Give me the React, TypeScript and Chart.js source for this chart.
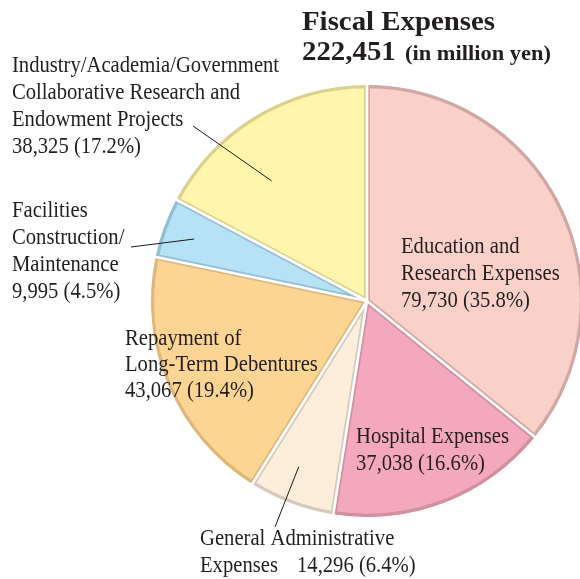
import React, { useEffect, useRef } from "react";
import { Chart, registerables } from "chart.js";

Chart.register(...registerables);

const titleLine = "Fiscal Expenses";
const totalText = "222,451";
const unitText = "(in million yen)";

const categories = [
  "Education and Research Expenses",
  "Hospital Expenses",
  "General Administrative Expenses",
  "Repayment of Long-Term Debentures",
  "Facilities Construction/Maintenance",
  "Industry/Academia/Government Collaborative Research and Endowment Projects",
];
const values = [79730, 37038, 14296, 43067, 9995, 38325];
const percents = [35.8, 16.6, 6.4, 19.4, 4.5, 17.2];
const nameLines = [
  ["Education and", "Research Expenses"],
  ["Hospital Expenses"],
  ["General Administrative", "Expenses"],
  ["Repayment of", "Long-Term Debentures"],
  ["Facilities", "Construction/", "Maintenance"],
  ["Industry/Academia/Government", "Collaborative Research and", "Endowment Projects"],
];

const fills = ["#F9D1C9", "#F4A8BD", "#FDEEDC", "#FDD593", "#B6E2F6", "#FFF6AB"];
const borders = ["#CFA8A4", "#CF919D", "#D4CABB", "#DDB87B", "#93BFD3", "#DAD28B"];

// label layout: x, first baseline, line height; general label puts value on the last name line
const labelLayout = [
  { x: 401, y: 253, lh: 27, inline: 0 },
  { x: 356, y: 443, lh: 27, inline: 0 },
  { x: 200, y: 545, lh: 27, inline: 97 },
  { x: 125, y: 345, lh: 26, inline: 0 },
  { x: 12, y: 217, lh: 27, inline: 0 },
  { x: 12, y: 72, lh: 27, inline: 0 },
];

// leader lines: slice index, angle fraction in slice, radius fraction, outer end
const leaders = [
  { i: 5, t: 0.38, rf: 0.71, ex: 193, ey: 126 },
  { i: 4, t: 0.49, rf: 0.85, ex: 131, ey: 247 },
  { i: 2, t: 0.58, rf: 0.83, ex: 275, ey: 527 },
];

const SX = 0.86;
const bodyFont = '24px "Liberation Serif", "Times New Roman", serif';
const GAP = 2.6;

function fmt(v: number) {
  return v.toLocaleString("en-US");
}

const gapPlugin = {
  id: "gaps",
  afterDatasetsDraw(chart: any) {
    const ctx = chart.ctx as CanvasRenderingContext2D;
    const meta = chart.getDatasetMeta(0);
    ctx.save();
    ctx.strokeStyle = "#ffffff";
    ctx.lineWidth = GAP;
    ctx.lineCap = "butt";
    meta.data.forEach((arc: any) => {
      const a = arc.startAngle;
      const R = arc.outerRadius + 2;
      ctx.beginPath();
      ctx.moveTo(arc.x, arc.y);
      ctx.lineTo(arc.x + Math.cos(a) * R, arc.y + Math.sin(a) * R);
      ctx.stroke();
    });
    ctx.restore();
  },
};

const labelPlugin = {
  id: "labels",
  afterDraw(chart: any) {
    const ctx = chart.ctx as CanvasRenderingContext2D;
    const meta = chart.getDatasetMeta(0);
    ctx.save();
    ctx.strokeStyle = "#1a1a1a";
    ctx.lineWidth = 1;
    leaders.forEach((l) => {
      const arc = meta.data[l.i] as any;
      const a = arc.startAngle + (arc.endAngle - arc.startAngle) * l.t;
      const r = arc.outerRadius * l.rf;
      const px = arc.x + Math.cos(a) * r;
      const py = arc.y + Math.sin(a) * r;
      ctx.beginPath();
      ctx.moveTo(l.ex, l.ey);
      ctx.lineTo(px, py);
      ctx.stroke();
    });
    ctx.fillStyle = "#231f20";
    ctx.textBaseline = "alphabetic";
    ctx.textAlign = "left";
    const drawScaled = (text: string, x: number, y: number, font: string, sx: number) => {
      ctx.save();
      ctx.font = font;
      ctx.translate(x, y);
      ctx.scale(sx, 1);
      ctx.fillText(text, 0, 0);
      ctx.restore();
    };
    categories.forEach((_, i) => {
      const L = labelLayout[i];
      const lines = nameLines[i];
      const valueText = `${fmt(values[i])} (${percents[i]}%)`;
      lines.forEach((ln, k) => drawScaled(ln, L.x, L.y + k * L.lh, bodyFont, SX));
      if (L.inline) {
        drawScaled(valueText, L.x + L.inline, L.y + (lines.length - 1) * L.lh, bodyFont, SX);
      } else {
        drawScaled(valueText, L.x, L.y + lines.length * L.lh, bodyFont, SX);
      }
    });
    const boldFont = 'bold 28px "Liberation Serif", "Times New Roman", serif';
    drawScaled(titleLine, 302, 30, boldFont, 1.03);
    drawScaled(totalText, 302, 60, boldFont, 1.03);
    drawScaled(unitText, 405, 60, 'bold 22px "Liberation Serif", "Times New Roman", serif', 1.02);
    ctx.restore();
  },
};

export default function App() {
  const ref = useRef<HTMLCanvasElement | null>(null);
  useEffect(() => {
    if (!ref.current) return;
    const chart = new Chart(ref.current, {
      type: "pie",
      data: {
        labels: categories,
        datasets: [
          {
            data: values,
            backgroundColor: fills,
            borderColor: borders,
            borderWidth: 3,
            borderAlign: "inner",
            radius: 216,
            clip: false,
          } as any,
        ],
      },
      options: {
        responsive: false,
        animation: false,
        devicePixelRatio: 1,
        layout: { padding: { left: 154, right: 0, top: 23, bottom: 0 } },
        plugins: {
          legend: { display: false },
          tooltip: { enabled: false },
          title: { display: false },
        },
      } as any,
      plugins: [gapPlugin, labelPlugin],
    });
    return () => chart.destroy();
  }, []);
  return (
    <div style={{ position: "fixed", left: 0, top: 0, width: 580, height: 579, background: "#fff", overflow: "hidden" }}>
      <canvas ref={ref} width={580} height={579} style={{ display: "block", width: 580, height: 579 }} />
    </div>
  );
}
